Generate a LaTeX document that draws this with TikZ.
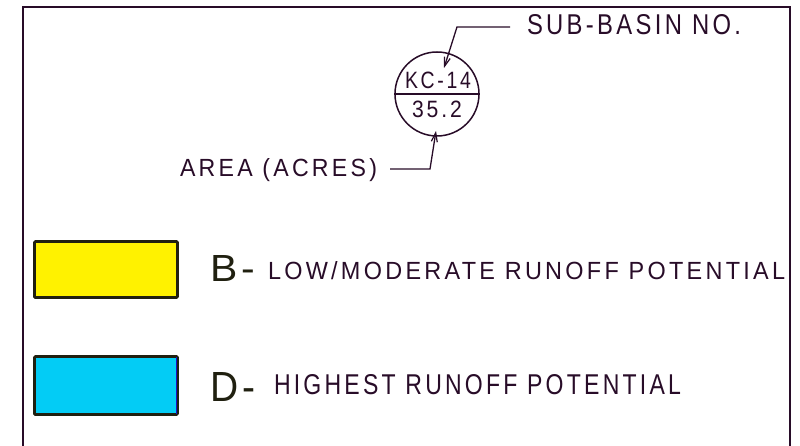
\documentclass[tikz,border=0pt]{standalone}
\usepackage{fontspec}
\setmainfont{Liberation Sans}[LetterSpace=14]
\newfontfamily\bigletters{Liberation Sans}
\usetikzlibrary{arrows.meta}
\definecolor{ink}{RGB}{40,12,40}
\definecolor{olive}{RGB}{32,32,16}
\definecolor{cyanfill}{RGB}{3,204,245}
\definecolor{edgeblue}{RGB}{20,20,200}
\newcommand\fittext[3]{\resizebox{#1pt}{#2pt}{#3}}
\tikzset{
  lbl/.style={anchor=base west,inner sep=0pt,outer sep=0pt,text=ink},
  frameline/.style={draw=ink,line width=1.8pt},
  leader/.style={draw=ink,line width=1.3pt,-{Straight Barb[length=9pt,width=6pt,line width=1.2pt]}},
  swatch/.style={draw=olive,line width=2.8pt,rounded corners=1pt}
}
\begin{document}
\begin{tikzpicture}[x=1pt,y=1pt]
\useasboundingbox (0,0) rectangle (800,446);
% frame
\draw[frameline] (23,0) -- (23,439) -- (790,439) -- (790,0);
% circle symbol
\node[circle,draw=ink,line width=1.5pt,minimum size=84pt,inner sep=0pt] (sym) at (437,352) {};
\draw[ink,line width=1.3pt] (sym.west) -- (sym.east);
\node[lbl] (kc) at (405,357) {\fittext{66}{16.5}{KC-14}};
\node[lbl] (ar) at (412,328) {\fittext{50}{16.5}{35.2}};
% labels
\node[lbl] (sub) at (527,411) {\fittext{214}{20}{SUB-BASIN NO.}};
\node[lbl] (area) at (180,269) {\fittext{197}{18}{AREA (ACRES)}};
\coordinate (subtip) at (444,378);
\coordinate (areatip) at (436,315);
\draw[leader] ([xshift=-17pt,yshift=8pt]sub.base west) -- (457,419) -- (subtip);
\draw[leader] ([xshift=13pt,yshift=8pt]area.base east) -- (430,277) -- (areatip);
% legend
\node[swatch,fill=yellow,minimum width=143pt,minimum height=56pt,anchor=south west,inner sep=0pt] (yb) at (33,147) {};
\node[swatch,fill=cyanfill,minimum width=143pt,minimum height=58pt,anchor=south west,inner sep=0pt] (cb) at (33,30) {};
\draw[edgeblue,line width=1pt] ([xshift=-2.3pt,yshift=1.5pt]cb.south east) -- ([xshift=-2.3pt,yshift=-1.5pt]cb.north east);
\node[lbl,text=olive] (bl) at (210,164) {\fittext{45}{26}{\bigletters B\kern1pt-}};
\node[lbl] (bt) at (268,166) {\fittext{517}{18}{LOW/MODERATE RUNOFF POTENTIAL}};
\node[lbl,text=olive] (dl) at (210,44) {\fittext{45}{29}{\bigletters D\kern1pt-}};
\node[lbl] (dt) at (274,51) {\fittext{407}{20}{HIGHEST RUNOFF POTENTIAL}};
\end{tikzpicture}
\end{document}
